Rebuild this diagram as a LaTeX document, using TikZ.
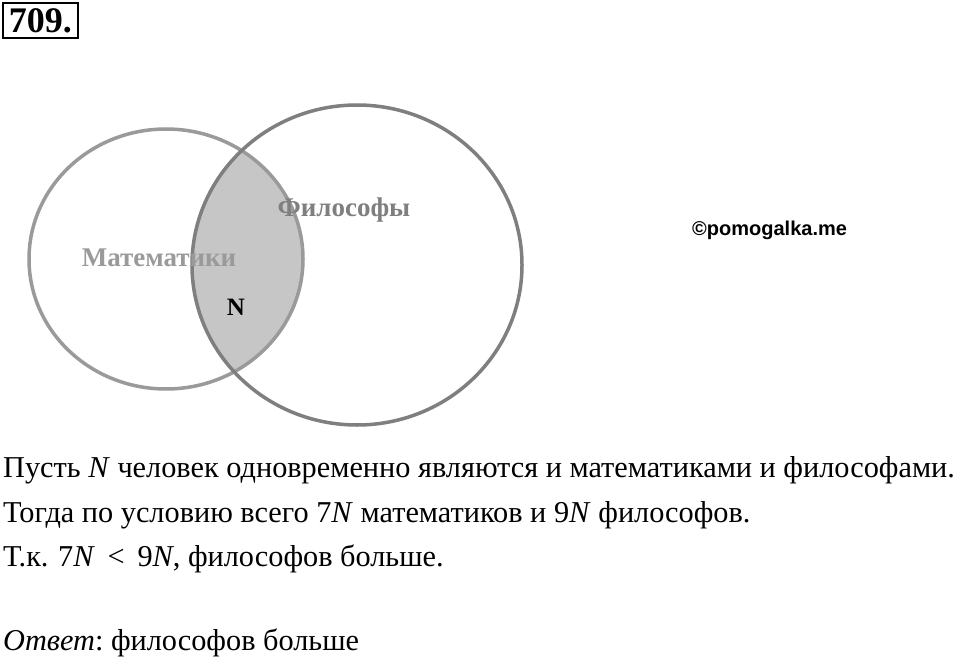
\documentclass[tikz,border=0pt]{standalone}
\usepackage{fontspec}
\setmainfont{Liberation Serif}
\newfontfamily\sansfont{Liberation Sans}
\usetikzlibrary{shapes.geometric}
\definecolor{mathgray}{HTML}{9A9A9A}
\definecolor{philgray}{HTML}{7F7F7F}
\definecolor{capgray}{HTML}{C6C6C6}
\frenchspacing
\begin{document}
\begin{tikzpicture}[x=1pt,y=-1pt,
  setcircle/.style={ellipse, draw, line width=3.5pt, inner sep=0pt, outer sep=0pt},
  setlabel/.style={font=\fontsize{27}{30}\selectfont\bfseries, inner sep=0pt},
  bodytext/.style={anchor=base west, inner sep=0pt, font=\fontsize{30.3}{34}\selectfont}]
\useasboundingbox (0,0) rectangle (960,660);
\fill[white] (0,0) rectangle (960,660);
% title
\node[draw, line width=1.8pt, inner sep=2pt, anchor=north west,
  font=\fontsize{36}{40}\selectfont\bfseries, minimum width=75pt, minimum height=35pt] (title) at (2,2) {709.};
% intersection
\begin{scope}
  \clip (166,259) ellipse [x radius=137, y radius=130];
  \fill[capgray] (357,265) ellipse [x radius=165, y radius=160];
\end{scope}
\node[setcircle, draw=mathgray, minimum width=274pt, minimum height=260pt] (math) at (166,259) {};
\node[setcircle, draw=philgray, minimum width=330pt, minimum height=320pt] (phil) at (357,265) {};
\node[setlabel, text=mathgray, anchor=base] (mathlbl) at (159,266) {Математики};
\node[setlabel, text=philgray, anchor=base] (phillbl) at (344,217) {Философы};
\node[setlabel, text=black, anchor=base, font=\fontsize{25}{28}\selectfont\bfseries] (nlbl) at (236,315) {N};
\node[anchor=base west, inner sep=0pt, font=\sansfont\fontsize{20}{22}\selectfont\bfseries] (wm) at (692,236) {©pomogalka.me};
% text
\node[bodytext] (l1) at (3,477) {Пусть \textit{N} человек одновременно являются и математиками и философами.};
\node[bodytext] (l2) at (3,522) {Тогда по условию всего 7\textit{N} математиков и 9\textit{N} философов.};
\node[bodytext] (l3) at (3,566) {Т.к.\hspace{0.32em}7\textit{N}\hspace{0.42em}<\hspace{0.42em}9\textit{N}, философов больше.};
\node[bodytext] (l4) at (3,650) {\textit{Ответ}: философов больше};
\end{tikzpicture}
\end{document}
